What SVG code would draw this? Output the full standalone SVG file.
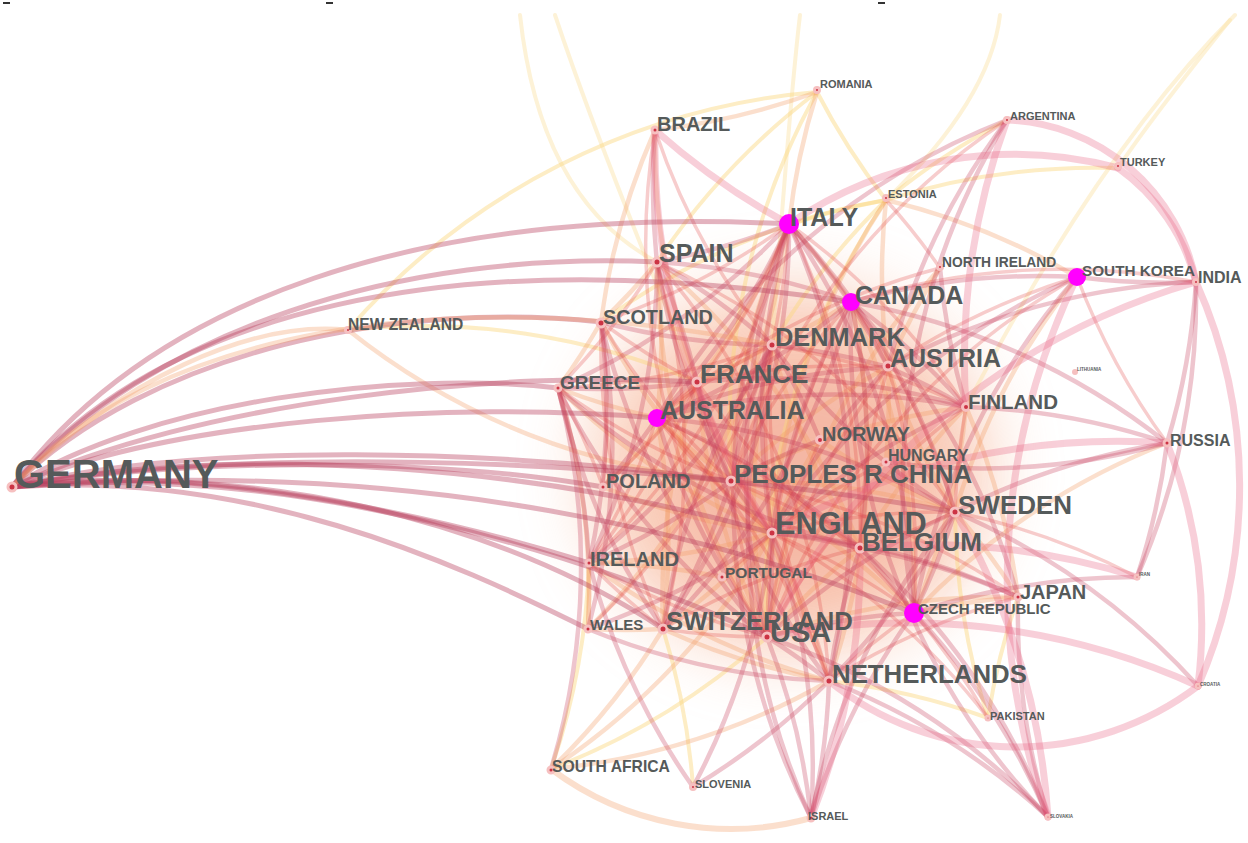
<svg xmlns="http://www.w3.org/2000/svg" width="1248" height="843" viewBox="0 0 1248 843">
<defs>
<filter id="blur" x="-50%" y="-50%" width="200%" height="200%"><feGaussianBlur stdDeviation="35"/></filter>
<style>
path{fill:none;stroke-linecap:round}
.a path{stroke:#c8405e;stroke-opacity:.3;stroke-width:4.5}
.b path{stroke:#e04848;stroke-opacity:.27;stroke-width:3.5}
.c path{stroke:#f49a64;stroke-opacity:.32;stroke-width:4.5}
.d path{stroke:#fbd77e;stroke-opacity:.45;stroke-width:4}
.t path{stroke:#fbe2a6;stroke-opacity:.45;stroke-width:4}
.e path{stroke:#e86080;stroke-opacity:.3;stroke-width:7}
.g path{stroke:#b8405e;stroke-opacity:.4;stroke-width:5}
.n circle.dot{fill:#cc3344;stroke:#f6c0c0;stroke-width:3}
.n circle.hub{fill:#ff00ff}
text{font-family:"Liberation Sans",Arial,sans-serif;font-weight:bold;fill:#555a5a}
</style>
</defs>
<rect width="1248" height="843" fill="#ffffff"/>
<rect x="3" y="2" width="7" height="2" fill="#333"/>
<rect x="326" y="2" width="7" height="2" fill="#333"/>
<rect x="878" y="2" width="7" height="2" fill="#333"/>
<ellipse cx="790" cy="470" rx="200" ry="185" fill="#f5a37c" opacity=".5" filter="url(#blur)"/>
<ellipse cx="800" cy="480" rx="130" ry="120" fill="#e8705e" opacity=".25" filter="url(#blur)"/>
<g id="connectors">
<g class="t">
<path d="M520,15 Q540,200 657,262"/><path d="M555,15 Q600,150 697,382"/><path d="M800,15 Q790,100 772,345"/><path d="M1000,15 Q990,100 886,200"/><path d="M1235,15 Q1100,150 966,407"/><path d="M1230,20 Q1150,120 1118,168"/>
</g>
<g class="d">
<path d="M767,637A700 700 0 0 1 886,200"/><path d="M767,637A700 700 0 0 1 551,769"/><path d="M731,481A700 700 0 0 1 817,92"/><path d="M789,224A700 700 0 0 1 886,200"/><path d="M657,262A700 700 0 0 1 817,92"/><path d="M772,345A700 700 0 0 1 886,200"/><path d="M601,322A700 700 0 0 1 886,200"/><path d="M663,629A700 700 0 0 1 693,787"/><path d="M589,563A700 700 0 0 1 551,769"/><path d="M829,681A700 700 0 0 1 988,718"/><path d="M886,200A700 700 0 0 1 817,92"/><path d="M886,200A700 700 0 0 1 1007,120"/><path d="M886,200A700 700 0 0 1 1118,168"/><path d="M988,718A700 700 0 0 1 1018,597"/><path d="M988,718A700 700 0 0 1 955,512"/><path d="M348,330A700 700 0 0 1 817,92"/><path d="M348,330A700 700 0 0 1 697,382"/>
</g>
<g class="c">
<path d="M772,533A700 700 0 0 1 601,322"/><path d="M772,533A700 700 0 0 1 558,388"/><path d="M772,533A700 700 0 0 1 820,440"/><path d="M772,533A700 700 0 0 1 603,487"/><path d="M772,533A700 700 0 0 1 589,563"/><path d="M772,533A700 700 0 0 1 663,629"/><path d="M772,533A700 700 0 0 1 886,200"/><path d="M772,533A700 700 0 0 1 551,769"/>
<path d="M767,637A700 700 0 0 1 657,262"/><path d="M767,637A700 700 0 0 1 772,345"/><path d="M767,637A700 700 0 0 1 697,382"/><path d="M767,637A700 700 0 0 1 860,548"/><path d="M767,637A700 700 0 0 1 1018,597"/><path d="M767,637A700 700 0 0 1 940,268"/>
<path d="M731,481A700 700 0 0 1 789,224"/><path d="M731,481A700 700 0 0 1 888,367"/><path d="M731,481A700 700 0 0 1 966,407"/><path d="M731,481A700 700 0 0 1 657,418"/><path d="M731,481A700 700 0 0 1 955,512"/><path d="M731,481A700 700 0 0 1 914,613"/><path d="M731,481A700 700 0 0 1 829,681"/><path d="M731,481A700 700 0 0 1 348,330"/>
<path d="M789,224A700 700 0 0 1 851,302"/><path d="M789,224A700 700 0 0 1 697,382"/><path d="M789,224A700 700 0 0 1 817,92"/><path d="M789,224A700 700 0 0 1 588,629"/>
<path d="M657,262A700 700 0 0 1 601,322"/><path d="M657,262A700 700 0 0 1 657,418"/><path d="M657,262A700 700 0 0 1 860,548"/>
<path d="M851,302A700 700 0 0 1 772,345"/><path d="M851,302A700 700 0 0 1 914,613"/><path d="M851,302A700 700 0 0 1 829,681"/>
<path d="M657,418A700 700 0 0 1 663,629"/><path d="M657,418A700 700 0 0 1 558,388"/>
<path d="M955,512A700 700 0 0 1 888,367"/><path d="M955,512A700 700 0 0 1 820,440"/><path d="M955,512A700 700 0 0 1 1018,597"/><path d="M955,512A700 700 0 0 1 1077,277"/>
<path d="M829,681A700 700 0 0 1 589,563"/><path d="M829,681A700 700 0 0 1 663,629"/><path d="M829,681A700 700 0 0 1 551,769"/>
<path d="M663,629A700 700 0 0 1 697,382"/><path d="M663,629A700 700 0 0 1 588,629"/><path d="M663,629A700 700 0 0 1 551,769"/>
<path d="M860,548A700 700 0 0 1 772,345"/><path d="M860,548A700 700 0 0 1 966,407"/><path d="M772,345A700 700 0 0 1 697,382"/>
<path d="M697,382A700 700 0 0 1 603,487"/><path d="M697,382A700 700 0 0 1 655,130"/><path d="M601,322A700 700 0 0 1 558,388"/><path d="M601,322A700 700 0 0 1 655,130"/>
<path d="M888,367A700 700 0 0 1 886,462"/><path d="M888,367A700 700 0 0 1 886,200"/><path d="M888,367A700 700 0 0 1 940,268"/>
<path d="M966,407A700 700 0 0 1 914,613"/><path d="M966,407A700 700 0 0 1 1018,597"/><path d="M914,613A700 700 0 0 1 1018,597"/><path d="M914,613A700 700 0 0 1 1167,443"/>
<path d="M558,388A700 700 0 0 1 588,629"/><path d="M589,563A700 700 0 0 1 588,629"/><path d="M589,563A700 700 0 0 1 722,577"/><path d="M886,200A700 700 0 0 1 1077,277"/><path d="M817,92A700 700 0 0 1 655,130"/>
<path d="M551,769A300 300 0 0 0 811,818" style="stroke-width:6"/>
</g>
<g class="b">
<path d="M772,533A700 700 0 0 1 657,262"/><path d="M772,533A700 700 0 0 1 772,345"/><path d="M772,533A700 700 0 0 1 697,382"/><path d="M772,533A700 700 0 0 1 657,418"/><path d="M772,533A700 700 0 0 1 886,462"/><path d="M772,533A700 700 0 0 1 955,512"/><path d="M772,533A700 700 0 0 1 722,577"/><path d="M772,533A700 700 0 0 1 914,613"/><path d="M772,533A700 700 0 0 1 829,681"/><path d="M772,533A700 700 0 0 1 988,718"/>
<path d="M767,637A700 700 0 0 1 851,302"/><path d="M767,637A700 700 0 0 1 888,367"/><path d="M767,637A700 700 0 0 1 966,407"/><path d="M767,637A700 700 0 0 1 820,440"/><path d="M767,637A700 700 0 0 1 731,481"/><path d="M767,637A700 700 0 0 1 589,563"/><path d="M767,637A700 700 0 0 1 663,629"/><path d="M767,637A700 700 0 0 1 655,130"/><path d="M767,637A700 700 0 0 1 1077,277"/>
<path d="M731,481A700 700 0 0 1 851,302"/><path d="M731,481A700 700 0 0 1 601,322"/><path d="M731,481A700 700 0 0 1 558,388"/><path d="M731,481A700 700 0 0 1 860,548"/><path d="M731,481A700 700 0 0 1 1018,597"/><path d="M731,481A700 700 0 0 1 1007,120"/>
<path d="M789,224A700 700 0 0 1 601,322"/><path d="M789,224A700 700 0 0 1 772,345"/><path d="M789,224A700 700 0 0 1 966,407"/><path d="M789,224A700 700 0 0 1 860,548"/><path d="M789,224A700 700 0 0 1 589,563"/><path d="M789,224A700 700 0 0 1 603,487"/>
<path d="M657,262A700 700 0 0 1 558,388"/><path d="M657,262A700 700 0 0 1 955,512"/><path d="M657,262A700 700 0 0 1 663,629"/><path d="M657,262A700 700 0 0 1 829,681"/>
<path d="M851,302A700 700 0 0 1 888,367"/><path d="M851,302A700 700 0 0 1 955,512"/><path d="M851,302A700 700 0 0 1 1196,282"/>
<path d="M657,418A700 700 0 0 1 772,345"/><path d="M657,418A700 700 0 0 1 697,382"/><path d="M657,418A700 700 0 0 1 589,563"/><path d="M657,418A700 700 0 0 1 914,613"/><path d="M657,418A700 700 0 0 1 829,681"/><path d="M657,418A700 700 0 0 1 940,268"/>
<path d="M955,512A700 700 0 0 1 966,407"/><path d="M955,512A700 700 0 0 1 860,548"/><path d="M955,512A700 700 0 0 1 1137,577"/>
<path d="M829,681A700 700 0 0 1 772,345"/><path d="M829,681A700 700 0 0 1 914,613"/><path d="M829,681A700 700 0 0 1 1018,597"/>
<path d="M663,629A700 700 0 0 1 860,548"/><path d="M663,629A700 700 0 0 1 589,563"/><path d="M663,629A700 700 0 0 1 601,322"/>
<path d="M860,548A700 700 0 0 1 697,382"/><path d="M860,548A700 700 0 0 1 888,367"/>
<path d="M772,345A700 700 0 0 1 966,407"/><path d="M772,345A700 700 0 0 1 655,130"/><path d="M772,345A700 700 0 0 1 558,388"/><path d="M772,345A700 700 0 0 1 588,629"/>
<path d="M697,382A700 700 0 0 1 888,367"/><path d="M697,382A700 700 0 0 1 589,563"/><path d="M697,382A700 700 0 0 1 601,322"/>
<path d="M601,322A700 700 0 0 1 603,487"/><path d="M888,367A700 700 0 0 1 914,613"/><path d="M888,367A700 700 0 0 1 1077,277"/>
<path d="M914,613A700 700 0 0 1 988,718"/><path d="M558,388A700 700 0 0 1 603,487"/><path d="M886,200A700 700 0 0 1 940,268"/><path d="M1167,443A700 700 0 0 1 1077,277"/>
</g>
<g class="a">
<path d="M772,533A700 700 0 0 1 789,224"/><path d="M772,533A700 700 0 0 1 851,302"/><path d="M772,533A700 700 0 0 1 888,367"/><path d="M772,533A700 700 0 0 1 966,407"/><path d="M772,533A700 700 0 0 1 731,481"/><path d="M772,533A700 700 0 0 1 860,548"/><path d="M772,533A700 700 0 0 1 1018,597"/><path d="M772,533A700 700 0 0 1 767,637"/><path d="M772,533A700 700 0 0 1 588,629"/><path d="M772,533A700 700 0 0 1 1077,277"/><path d="M772,533A700 700 0 0 1 811,818"/><path d="M772,533A700 700 0 0 1 693,787"/>
<path d="M767,637A700 700 0 0 1 789,224"/><path d="M767,637A700 700 0 0 1 601,322"/><path d="M767,637A700 700 0 0 1 558,388"/><path d="M767,637A700 700 0 0 1 657,418"/><path d="M767,637A700 700 0 0 1 955,512"/><path d="M767,637A700 700 0 0 1 914,613"/><path d="M767,637A700 700 0 0 1 829,681"/><path d="M767,637A700 700 0 0 1 811,818"/><path d="M767,637A700 700 0 0 1 1048,817"/>
<path d="M731,481A700 700 0 0 1 657,262"/><path d="M731,481A700 700 0 0 1 772,345"/><path d="M731,481A700 700 0 0 1 697,382"/><path d="M731,481A700 700 0 0 1 820,440"/><path d="M731,481A700 700 0 0 1 589,563"/><path d="M731,481A700 700 0 0 1 663,629"/>
<path d="M789,224A700 700 0 0 1 657,262"/><path d="M789,224A700 700 0 0 1 888,367"/><path d="M789,224A700 700 0 0 1 558,388"/><path d="M789,224A700 700 0 0 1 657,418"/><path d="M789,224A700 700 0 0 1 955,512"/><path d="M789,224A700 700 0 0 1 914,613"/><path d="M789,224A700 700 0 0 1 663,629"/><path d="M789,224A700 700 0 0 1 829,681"/>
<path d="M657,262A700 700 0 0 1 851,302"/><path d="M657,262A700 700 0 0 1 772,345"/><path d="M657,262A700 700 0 0 1 697,382"/><path d="M657,262A700 700 0 0 1 589,563"/><path d="M657,262A700 700 0 0 1 655,130"/>
<path d="M851,302A700 700 0 0 1 966,407"/><path d="M851,302A700 700 0 0 1 657,418"/><path d="M851,302A700 700 0 0 1 860,548"/><path d="M851,302A700 700 0 0 1 663,629"/><path d="M851,302A700 700 0 0 1 1077,277"/><path d="M851,302A700 700 0 0 1 1167,443"/><path d="M851,302A700 700 0 0 1 1018,597"/>
<path d="M657,418A700 700 0 0 1 888,367"/><path d="M657,418A700 700 0 0 1 966,407"/><path d="M657,418A700 700 0 0 1 955,512"/><path d="M657,418A700 700 0 0 1 860,548"/><path d="M657,418A700 700 0 0 1 603,487"/><path d="M657,418A700 700 0 0 1 1007,120"/>
<path d="M955,512A700 700 0 0 1 772,345"/><path d="M955,512A700 700 0 0 1 914,613"/><path d="M955,512A700 700 0 0 1 829,681"/><path d="M955,512A700 700 0 0 1 1167,443"/><path d="M955,512A700 700 0 0 1 1198,686"/>
<path d="M829,681A700 700 0 0 1 697,382"/><path d="M829,681A700 700 0 0 1 860,548"/><path d="M829,681A700 700 0 0 1 588,629"/><path d="M829,681A700 700 0 0 1 811,818"/><path d="M829,681A700 700 0 0 1 693,787"/><path d="M829,681A700 700 0 0 1 1048,817"/>
<path d="M663,629A700 700 0 0 1 772,345"/><path d="M663,629A700 700 0 0 1 558,388"/>
<path d="M860,548A700 700 0 0 1 914,613"/><path d="M860,548A700 700 0 0 1 1018,597"/><path d="M860,548A700 700 0 0 1 1048,817"/><path d="M860,548A700 700 0 0 1 558,388"/>
<path d="M772,345A700 700 0 0 1 888,367"/><path d="M772,345A700 700 0 0 1 820,440"/><path d="M772,345A700 700 0 0 1 601,322"/><path d="M772,345A700 700 0 0 1 589,563"/>
<path d="M697,382A700 700 0 0 1 966,407"/><path d="M697,382A700 700 0 0 1 558,388"/><path d="M601,322A700 700 0 0 1 589,563"/><path d="M601,322A700 700 0 0 1 588,629"/>
<path d="M888,367A700 700 0 0 1 966,407"/><path d="M888,367A700 700 0 0 1 1007,120"/><path d="M888,367A700 700 0 0 1 1196,282"/>
<path d="M966,407A700 700 0 0 1 1167,443"/><path d="M966,407A700 700 0 0 1 940,268"/>
<path d="M914,613A700 700 0 0 1 1077,277"/><path d="M914,613A700 700 0 0 1 1137,577"/><path d="M914,613A700 700 0 0 1 1048,817"/><path d="M914,613A700 700 0 0 1 1007,120"/>
<path d="M558,388A700 700 0 0 1 589,563"/><path d="M558,388A700 700 0 0 1 551,769"/>
<path d="M1196,282A700 700 0 0 1 1077,277"/><path d="M1196,282A700 700 0 0 1 1167,443"/><path d="M1196,282A700 700 0 0 1 1137,577"/>
<path d="M1167,443A700 700 0 0 1 1137,577"/><path d="M1167,443A700 700 0 0 1 886,462"/>
<path d="M1048,817A700 700 0 0 1 1018,597"/><path d="M1048,817A700 700 0 0 1 851,302"/>
<path d="M811,818A700 700 0 0 1 772,345"/><path d="M811,818A700 700 0 0 1 789,224"/><path d="M811,818A700 700 0 0 1 914,613"/><path d="M811,818A700 700 0 0 1 955,512"/>
<path d="M693,787A700 700 0 0 1 589,563"/>
</g>
<g class="e">
<path d="M772,533A700 700 0 0 1 655,130"/><path d="M772,533A700 700 0 0 1 1167,443"/><path d="M767,637A700 700 0 0 1 1196,282"/><path d="M767,637A700 700 0 0 1 1198,686"/><path d="M789,224A700 700 0 0 1 655,130"/><path d="M789,224A400 400 0 0 1 1118,168"/><path d="M955,512A700 700 0 0 1 1048,817"/><path d="M829,681A300 300 0 0 0 1198,686"/><path d="M860,548A700 700 0 0 1 811,818"/><path d="M860,548A700 700 0 0 1 1137,577"/><path d="M966,407A700 700 0 0 1 1007,120"/><path d="M1196,282A500 500 0 0 1 1198,686"/><path d="M1007,120A200 200 0 0 1 1196,282"/><path d="M1167,443A500 500 0 0 1 1198,686"/><path d="M1048,817A700 700 0 0 1 1077,277"/><path d="M1118,168A200 200 0 0 1 1196,282"/>
</g>
<g class="g">
<path d="M12,487 C150,300 420,205 789,224"/><path d="M12,487 C160,310 450,240 851,302"/><path d="M12,487 C150,330 400,250 657,262"/><path d="M12,487 C150,350 400,300 601,322"/><path d="M12,487 C150,400 400,370 558,388"/><path d="M12,487 C170,420 450,400 657,418"/><path d="M12,487 C200,400 500,370 697,382"/><path d="M12,487 C200,440 500,450 731,481"/><path d="M12,487 C200,450 600,450 955,512"/><path d="M12,487 C200,455 450,460 603,487"/><path d="M12,487 C200,460 450,520 589,563"/><path d="M12,487 Q500,450 914,613"/><path d="M12,487 C250,460 500,520 663,629"/><path d="M12,487 C250,470 450,560 588,629"/><path d="M12,487 C300,460 600,560 767,637"/><path d="M12,487 C250,440 550,470 772,533"/>
</g>
<g class="c"><path d="M12,487 C120,380 250,320 348,330"/><path d="M12,487 C150,330 450,280 772,345"/></g>
</g>
<g class="n">
<g id="n-germany"><circle class="dot" cx="12" cy="487" r="4"/><text x="14" y="488" font-size="40">GERMANY</text></g>
<g id="n-italy"><circle class="hub" cx="789" cy="224" r="10"/><text x="790" y="226" font-size="25">ITALY</text></g>
<g id="n-brazil"><circle class="dot" cx="655" cy="130" r="3"/><text x="657" y="131" font-size="20">BRAZIL</text></g>
<g id="n-romania"><circle class="dot" cx="817" cy="90" r="2.5"/><text x="820" y="88" font-size="11">ROMANIA</text></g>
<g id="n-argentina"><circle class="dot" cx="1007" cy="120" r="2.5"/><text x="1010" y="120" font-size="11">ARGENTINA</text></g>
<g id="n-turkey"><circle class="dot" cx="1118" cy="166" r="2.5"/><text x="1120" y="166" font-size="11">TURKEY</text></g>
<g id="n-estonia"><circle class="dot" cx="886" cy="198" r="2.5"/><text x="888" y="198" font-size="11">ESTONIA</text></g>
<g id="n-spain"><circle class="dot" cx="657" cy="262" r="4"/><text x="659" y="262" font-size="25">SPAIN</text></g>
<g id="n-northireland"><circle class="dot" cx="940" cy="267" r="2.5"/><text x="942" y="267" font-size="13.8">NORTH IRELAND</text></g>
<g id="n-southkorea"><circle class="hub" cx="1077" cy="277" r="9"/><text x="1082" y="276" font-size="15.3">SOUTH KOREA</text></g>
<g id="n-india"><circle class="dot" cx="1196" cy="282" r="2.5"/><text x="1198" y="283" font-size="16">INDIA</text></g>
<g id="n-canada"><circle class="hub" cx="851" cy="302" r="9"/><text x="855" y="304" font-size="25">CANADA</text></g>
<g id="n-newzealand"><circle class="dot" cx="348" cy="330" r="2.5"/><text x="348" y="330" font-size="15.6">NEW ZEALAND</text></g>
<g id="n-scotland"><circle class="dot" cx="601" cy="323" r="4"/><text x="603" y="324" font-size="19.8">SCOTLAND</text></g>
<g id="n-denmark"><circle class="dot" cx="772" cy="345" r="4"/><text x="775" y="346" font-size="25.4">DENMARK</text></g>
<g id="n-austria"><circle class="dot" cx="888" cy="366" r="4"/><text x="890" y="367" font-size="25">AUSTRIA</text></g>
<g id="n-greece"><circle class="dot" cx="558" cy="388" r="3"/><text x="560" y="389" font-size="19">GREECE</text></g>
<g id="n-france"><circle class="dot" cx="697" cy="382" r="4"/><text x="700" y="383" font-size="26">FRANCE</text></g>
<g id="n-lithuania"><circle class="dot" cx="1075" cy="372" r="1.5"/><text x="1077" y="371" font-size="4.5">LITHUANIA</text></g>
<g id="n-finland"><circle class="dot" cx="966" cy="407" r="3.5"/><text x="968" y="409" font-size="20.5">FINLAND</text></g>
<g id="n-australia"><circle class="hub" cx="657" cy="418" r="9"/><text x="660" y="419" font-size="25">AUSTRALIA</text></g>
<g id="n-russia"><circle class="dot" cx="1167" cy="443" r="3"/><text x="1170" y="446" font-size="16">RUSSIA</text></g>
<g id="n-norway"><circle class="dot" cx="820" cy="440" r="3.5"/><text x="822" y="441" font-size="20">NORWAY</text></g>
<g id="n-hungary"><circle class="dot" cx="886" cy="462" r="3"/><text x="888" y="461" font-size="16">HUNGARY</text></g>
<g id="n-poland"><circle class="dot" cx="603" cy="487" r="3"/><text x="606" y="488" font-size="20">POLAND</text></g>
<g id="n-china"><circle class="dot" cx="731" cy="481" r="4"/><text x="734" y="483" font-size="26">PEOPLES R CHINA</text></g>
<g id="n-sweden"><circle class="dot" cx="955" cy="512" r="4"/><text x="958" y="514" font-size="26">SWEDEN</text></g>
<g id="n-england"><circle class="dot" cx="772" cy="533" r="4"/><text x="775" y="534" font-size="30.7">ENGLAND</text></g>
<g id="n-belgium"><circle class="dot" cx="860" cy="548" r="4"/><text x="862" y="551" font-size="26">BELGIUM</text></g>
<g id="n-ireland"><circle class="dot" cx="589" cy="563" r="3"/><text x="590" y="566" font-size="20">IRELAND</text></g>
<g id="n-portugal"><circle class="dot" cx="722" cy="577" r="3"/><text x="725" y="578" font-size="15.5">PORTUGAL</text></g>
<g id="n-iran"><circle class="dot" cx="1137" cy="577" r="2"/><text x="1139" y="576" font-size="4.5">IRAN</text></g>
<g id="n-japan"><circle class="dot" cx="1018" cy="597" r="3"/><text x="1020" y="599" font-size="20">JAPAN</text></g>
<g id="n-czech"><circle class="hub" cx="914" cy="613" r="10"/><text x="918" y="614" font-size="15">CZECH REPUBLIC</text></g>
<g id="n-switzerland"><circle class="dot" cx="663" cy="629" r="4"/><text x="666" y="630" font-size="25.7">SWITZERLAND</text></g>
<g id="n-usa"><circle class="dot" cx="767" cy="637" r="4"/><text x="770" y="642" font-size="29">USA</text></g>
<g id="n-wales"><circle class="dot" cx="588" cy="629" r="3"/><text x="590" y="630" font-size="15">WALES</text></g>
<g id="n-netherlands"><circle class="dot" cx="829" cy="681" r="4"/><text x="832" y="683" font-size="25.8">NETHERLANDS</text></g>
<g id="n-croatia"><circle class="dot" cx="1198" cy="686" r="2"/><text x="1200" y="686" font-size="4.5">CROATIA</text></g>
<g id="n-pakistan"><circle class="dot" cx="988" cy="718" r="2"/><text x="990" y="720" font-size="11">PAKISTAN</text></g>
<g id="n-southafrica"><circle class="dot" cx="551" cy="770" r="3"/><text x="552" y="772" font-size="15.7">SOUTH AFRICA</text></g>
<g id="n-slovenia"><circle class="dot" cx="693" cy="787" r="2.5"/><text x="695" y="788" font-size="11">SLOVENIA</text></g>
<g id="n-israel"><circle class="dot" cx="811" cy="818" r="3"/><text x="808" y="820" font-size="11">ISRAEL</text></g>
<g id="n-slovakia"><circle class="dot" cx="1048" cy="817" r="2"/><text x="1050" y="818" font-size="4.5">SLOVAKIA</text></g>
</g>
</svg>
